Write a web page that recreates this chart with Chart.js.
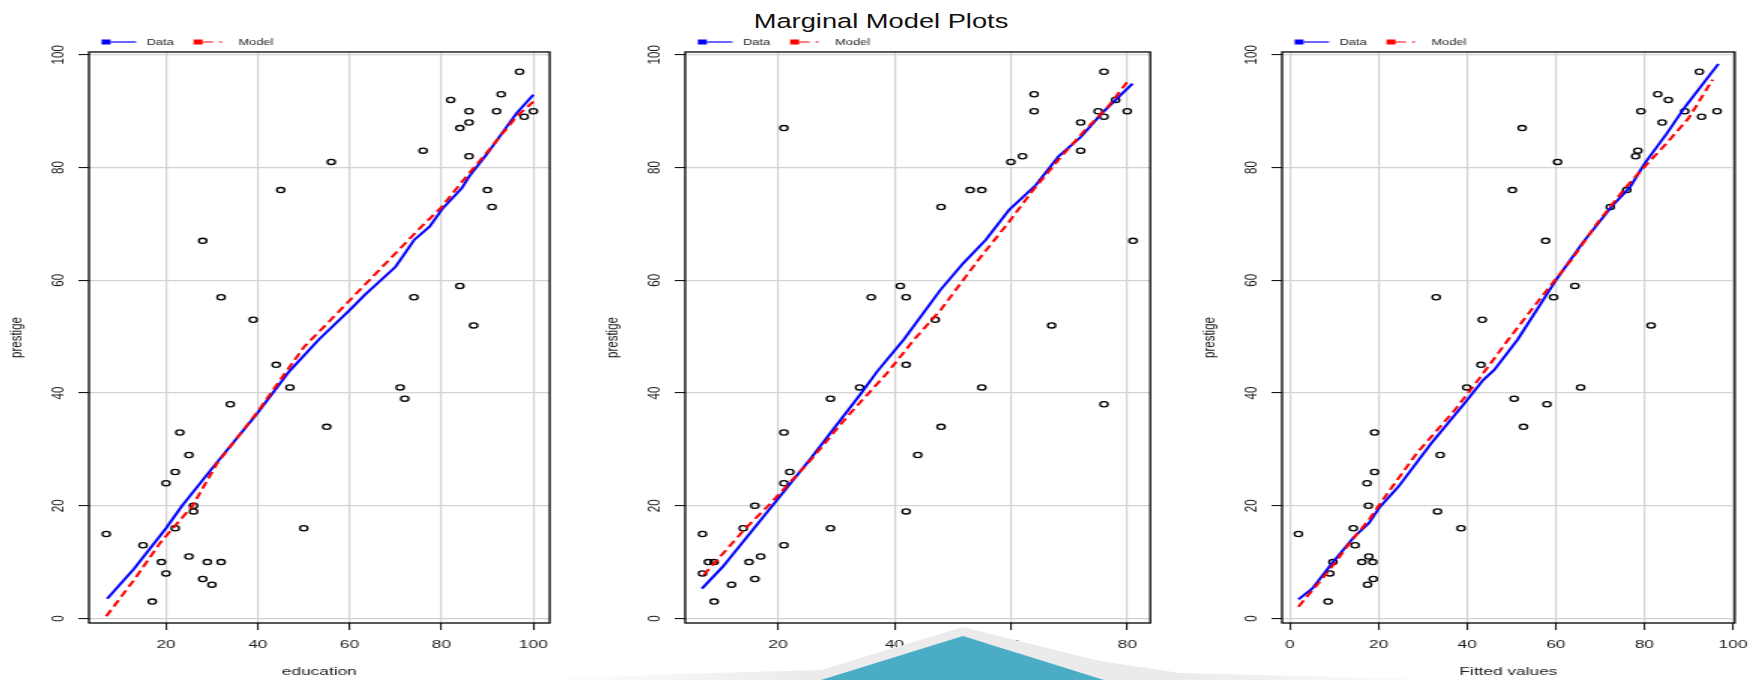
<!DOCTYPE html>
<html>
<head>
<meta charset="utf-8">
<title>Marginal Model Plots</title>
<script src="https://cdn.jsdelivr.net/npm/chart.js@4.4.1/dist/chart.umd.min.js"></script>
<style>
  body { margin: 0; width: 1762px; height: 680px; overflow: hidden; background: #fff; position: relative; }
  .panel { position: absolute; top: 0; height: 680px; transform: scaleX(1.5); transform-origin: 0 0; }
  #title { position: absolute; left: 881px; top: 11px; font: 20.5px "Liberation Sans", Arial, sans-serif; line-height: 20.5px;
           color: #111; white-space: nowrap; transform: translateX(-50%) scaleX(1.33); }
  #deco { position: absolute; left: 0; top: 0; pointer-events: none; }
</style>
</head>
<body>
<div id="title">Marginal Model Plots</div>
<div class="panel" style="left:-1.2px;width:374px"><canvas id="eduChart"></canvas></div>
<div class="panel" style="left:595.2px;width:374.5px"><canvas id="incomeChart"></canvas></div>
<div class="panel" style="left:1192.1px;width:378.3px"><canvas id="fittedChart"></canvas></div>
<svg id="deco" width="1762" height="680">
  <defs>
    <linearGradient id="band" x1="0" x2="1" y1="0" y2="0">
      <stop offset="0" stop-color="#ebebeb" stop-opacity="0"/>
      <stop offset="0.3" stop-color="#ebebeb"/>
      <stop offset="0.7" stop-color="#ebebeb"/>
      <stop offset="1" stop-color="#ebebeb" stop-opacity="0"/>
    </linearGradient>
  </defs>
  <polygon points="528,680 680,674 821,670 963,627 1100,661 1180,673 1461,680" fill="url(#band)"/>
  <polygon points="821,680 963,636 1104,680" fill="#4bacc6"/>
</svg>
<script>
// Duncan occupations
const income = [62, 72, 75, 55, 64, 21, 64, 80, 67, 72, 42, 76, 76, 41, 48, 76, 53, 60, 42, 78, 29, 48, 55,
  29, 21, 47, 81, 36, 22, 44, 15, 7, 42, 9, 21, 21, 16, 16, 9, 14, 12, 17, 7, 34, 8];
const education = [86, 76, 92, 90, 86, 84, 93, 100, 87, 86, 74, 98, 97, 84, 91, 34, 45, 56, 44, 82, 72, 55, 71,
  50, 23, 39, 28, 32, 22, 25, 29, 7, 26, 19, 15, 20, 26, 28, 17, 22, 30, 25, 20, 47, 32];
const prestige = [82, 83, 90, 76, 90, 87, 93, 90, 52, 88, 57, 89, 97, 59, 73, 38, 76, 81, 45, 92, 39, 34, 41,
  16, 33, 53, 67, 57, 26, 29, 10, 15, 19, 10, 13, 24, 20, 7, 3, 16, 6, 11, 8, 41, 10];
const fitted = [78.0, 78.5, 89.1, 76.0, 79.2, 52.4, 83.0, 96.4, 81.5, 84.0, 59.5, 92.9, 92.4, 64.3, 72.3, 58.0,
  50.2, 60.4, 43.1, 85.4, 50.6, 52.7, 65.6, 38.6, 19.1, 43.4, 57.7, 33.0, 19.1, 33.9, 18.7, 1.9, 33.3, 9.7,
  14.7, 17.4, 17.7, 18.8, 8.6, 14.3, 17.5, 17.8, 9.0, 39.9, 16.2];

// smoothed lines
const eduDataX = [7.2, 13, 20, 23.5, 30.3, 39.9, 46.8, 53.3, 60, 63.3, 70, 74.1, 77.4, 80.3, 84.4, 86, 89.8, 96.4, 100];
const eduDataY = [3.5, 8.8, 16, 20, 26.9, 36.4, 43.8, 49.5, 54.7, 57.4, 62.4, 67.2, 69.5, 72.8, 76.3, 78.4, 82.3, 89.7, 92.9];
const eduModelX = [7, 13, 18.8, 25.8, 31.1, 39.8, 46.8, 50.1, 55.9, 63.3, 70, 75.6, 79.8, 84.8, 89.8, 96.4, 100];
const eduModelY = [0.4, 6.8, 13.5, 20, 27.5, 36.5, 44.5, 48.2, 53, 59.2, 64.8, 69.5, 72.8, 77.8, 82.6, 89.1, 91.7];

const incomeDataX = [6.9, 10.5, 19, 25.6, 34.3, 37, 41.6, 47.9, 51.8, 55.7, 59.7, 64.3, 68.2, 72.1, 75.7, 80.9];
const incomeDataY = [5.3, 9.2, 20, 28.4, 40, 43.8, 49.5, 58.3, 63, 67.2, 72.5, 76.9, 82, 85.5, 89.7, 94.9];
const incomeModelX = [7.2, 14.4, 18.3, 25.6, 32.1, 38.7, 43.3, 47.9, 54.4, 59.7, 63.6, 68.2, 72.8, 76.7, 80.3];
const incomeModelY = [7.7, 16, 20, 28.1, 36.1, 43.5, 49.4, 54.7, 63.6, 70.4, 75.7, 81.4, 86.7, 90.8, 95.6];

const fittedDataX = [1.9, 5, 9.5, 14.5, 17.8, 20.3, 24.5, 31.9, 39.4, 43.6, 46.1, 51.4, 60.1, 66, 72.6, 76.8, 80.1, 85.1, 89.2, 96.7];
const fittedDataY = [3.4, 5.3, 9.8, 14.5, 16.9, 19.8, 23.4, 31.1, 38.2, 42.3, 44.1, 49.5, 60.1, 66.6, 73.1, 76.6, 80.8, 86.1, 90.8, 98.4];
const fittedModelX = [1.9, 5.4, 9.5, 13.7, 17.8, 22, 28.6, 36.9, 41.9, 49.2, 56.8, 63.5, 69.3, 75.9, 80.1, 85.1, 90, 95.4];
const fittedModelY = [2.1, 5.3, 9.2, 13.6, 17.5, 22.2, 29.3, 36.7, 41.7, 49.4, 57.1, 63.6, 70.1, 76.6, 80.2, 84.4, 88.8, 95.6];

const yTicks = [0, 20, 40, 60, 80, 100];
const eduTicks = [20, 40, 60, 80, 100];
const incomeTicks = [20, 40, 60, 80];
const fittedTicks = [0, 20, 40, 60, 80, 100];

Chart.defaults.font.family = '"Liberation Sans", Arial, sans-serif';
Chart.defaults.color = '#1a1a1a';

// box, rotated y labels and the little legend on top, R style
const rBox = {
  id: 'rBox',
  afterDraw(chart) {
    const ctx = chart.ctx;
    const a = chart.chartArea;
    const y = chart.scales.y;
    ctx.save();
    ctx.strokeStyle = '#000';
    ctx.lineWidth = 1.3;
    ctx.strokeRect(a.left, a.top, a.right - a.left, a.bottom - a.top);

    ctx.fillStyle = '#1a1a1a';
    ctx.font = '11.5px "Liberation Sans", Arial, sans-serif';
    ctx.textAlign = 'center';
    ctx.textBaseline = 'middle';
    y.ticks.forEach(t => {
      ctx.save();
      ctx.translate(a.left - 20.4, y.getPixelForValue(t.value));
      ctx.rotate(-Math.PI / 2);
      ctx.fillText(String(t.value), 0, 0);
      ctx.restore();
    });

    const ly = 42;
    [{ label: 'Data', at: 8.4, len: 23 }, { label: 'Model', at: 69.7, len: 19 }].forEach(item => {
      const ds = chart.data.datasets.find(d => d.label === item.label);
      const x0 = a.left + item.at;
      ctx.fillStyle = ds.borderColor;
      ctx.fillRect(x0, ly - 2.5, 6, 5);
      ctx.strokeStyle = ds.borderColor;
      ctx.lineWidth = 1.2;
      ctx.setLineDash(ds.borderDash || []);
      ctx.beginPath();
      ctx.moveTo(x0 + 6, ly);
      ctx.lineTo(x0 + item.len, ly);
      ctx.stroke();
      ctx.setLineDash([]);
      ctx.fillStyle = '#222';
      ctx.font = '8.5px "Liberation Sans", Arial, sans-serif';
      ctx.textAlign = 'left';
      ctx.fillText(item.label, x0 + 30, ly + 1);
    });
    ctx.restore();
  }
};

function toPoints(xs, ys) {
  return xs.map((x, i) => ({ x: x, y: ys[i] }));
}

function drawPanel(id, xs, xTicks, xMin, xMax, xTitle, dataX, dataY, modelX, modelY) {
  const gridStyle = { color: '#d3d3d3', lineWidth: 1.2, tickColor: '#000', tickLength: 7, tickWidth: 1 };
  new Chart(document.getElementById(id), {
    type: 'scatter',
    data: {
      datasets: [
        { label: 'Model', type: 'line', data: toPoints(modelX, modelY), borderColor: '#ff0000', borderWidth: 2,
          borderDash: [7, 4], pointRadius: 0, fill: false, tension: 0 },
        { label: 'Data', type: 'line', data: toPoints(dataX, dataY), borderColor: '#0000ff', borderWidth: 2,
          pointRadius: 0, fill: false, tension: 0 },
        { label: 'points', data: toPoints(xs, prestige), pointStyle: 'circle', pointRadius: 2.6,
          borderColor: '#000', borderWidth: 1.3, backgroundColor: 'rgba(0,0,0,0)' }
      ]
    },
    options: {
      responsive: true,
      maintainAspectRatio: false,
      animation: false,
      events: [],
      layout: { padding: { top: 52, right: 4, left: 0, bottom: 0 } },
      plugins: { legend: { display: false }, tooltip: { enabled: false } },
      scales: {
        x: {
          type: 'linear', min: xMin, max: xMax,
          afterBuildTicks: s => { s.ticks = xTicks.map(v => ({ value: v })); },
          afterFit: s => { s.height = 57; },
          grid: gridStyle,
          border: { display: false },
          ticks: { font: { size: 11.5 }, padding: 8, maxRotation: 0, autoSkip: false },
          title: { display: true, text: xTitle, font: { size: 11.5 }, padding: { top: 0, bottom: 1 } }
        },
        y: {
          type: 'linear', min: -0.8, max: 100.5,
          afterBuildTicks: s => { s.ticks = yTicks.map(v => ({ value: v })); },
          afterFit: s => { s.width = 60; },
          grid: gridStyle,
          border: { display: false },
          ticks: { display: false },
          title: { display: true, text: 'prestige', font: { size: 11.5 }, padding: { top: 5, bottom: 0 } }
        }
      }
    },
    plugins: [rBox]
  });
}

drawPanel('eduChart', education, eduTicks, 3.24, 103.56, 'education', eduDataX, eduDataY, eduModelX, eduModelY);
drawPanel('incomeChart', income, incomeTicks, 4.04, 83.96, 'income', incomeDataX, incomeDataY, incomeModelX, incomeModelY);
drawPanel('fittedChart', fitted, fittedTicks, -1.8, 100.4, 'Fitted values', fittedDataX, fittedDataY, fittedModelX, fittedModelY);
</script>
</body>
</html>
